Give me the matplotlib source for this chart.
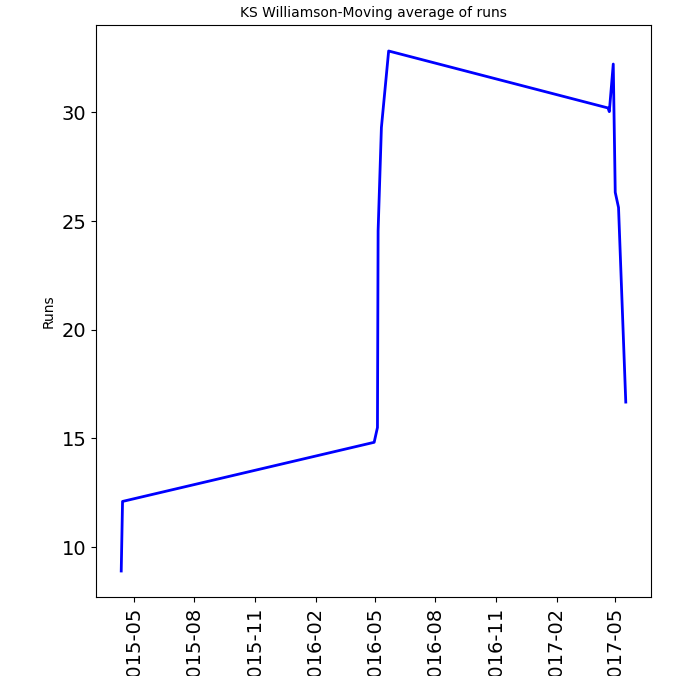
import numpy as np
import pandas as pd
import matplotlib
matplotlib.use("Agg")
import matplotlib.pyplot as plt
import matplotlib.dates as mdates

# dates of each innings and the moving average of runs
dates = ["2015-04-12", "2015-04-14", "2016-04-30", "2016-05-05", "2016-05-06",
         "2016-05-11", "2016-05-22", "2017-04-20", "2017-04-22", "2017-04-28",
         "2017-05-01", "2017-05-06", "2017-05-17"]
mov_avg = [8.9, 12.1, 14.82, 15.5, 24.55, 29.3, 32.82, 30.2, 30.03, 32.22,
           26.32, 25.62, 16.67]

title = "KS Williamson-Moving average of runs"

x = pd.to_datetime(dates)

fig = plt.figure(figsize=(6.76, 6.76), dpi=100)
ax = fig.add_axes([96/676, 1 - 597/676, (651 - 96)/676, (597 - 25)/676])
ax.plot(x, mov_avg, color='b', lw=2)

ax.xaxis.set_major_locator(mdates.MonthLocator(bymonth=[2, 5, 8, 11]))
ax.xaxis.set_major_formatter(mdates.DateFormatter('%Y-%m'))
plt.setp(ax.get_xticklabels(), rotation=90)
ax.tick_params(labelsize=14)

ax.set_yticks([10, 15, 20, 25, 30])
ax.set_title(title, fontsize=10)
ax.set_ylabel("Runs", fontsize=10)

fig.savefig("out.png", dpi=100)
